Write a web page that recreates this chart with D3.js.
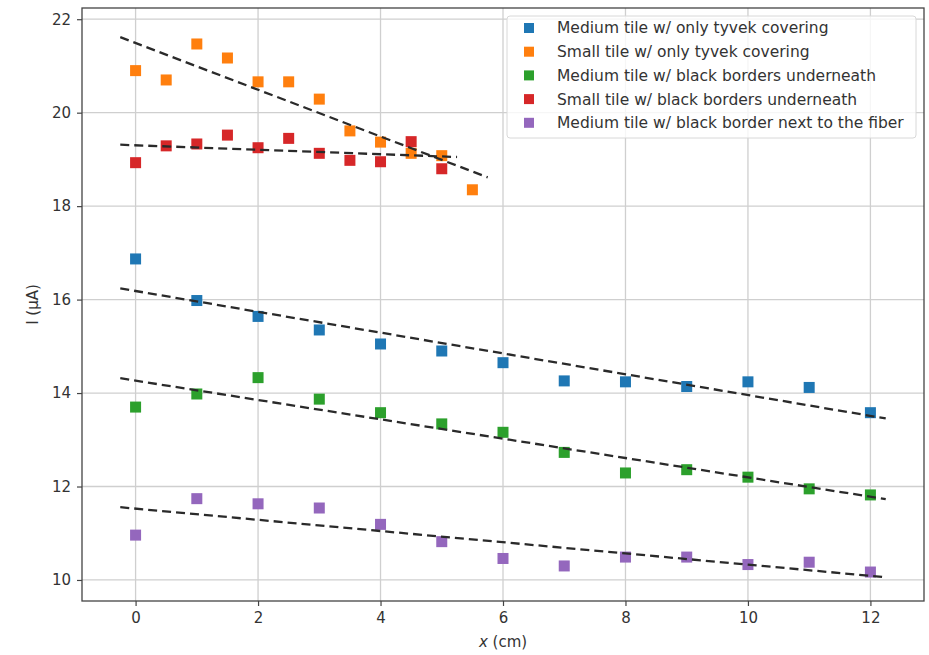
<!DOCTYPE html>
<html>
<head>
<meta charset="utf-8">
<script src="https://cdn.jsdelivr.net/npm/d3@7"></script>
<style>
  body { margin: 0; background: #fff; }
  text { font-family: "DejaVu Sans", sans-serif; fill: #333; }
</style>
</head>
<body>
<svg width="929" height="655"></svg>
<script>
// data
var xMedium = [0, 1, 2, 3, 4, 5, 6, 7, 8, 9, 10, 11, 12];
var xSmall = [0, 0.5, 1, 1.5, 2, 2.5, 3, 3.5, 4, 4.5, 5, 5.5];
var xSmallRed = [0, 0.5, 1, 1.5, 2, 2.5, 3, 3.5, 4, 4.5, 5];

var mediumTyvek = [16.87, 15.98, 15.64, 15.35, 15.05, 14.90, 14.65, 14.26, 14.24, 14.14, 14.24, 14.12, 13.58];
var smallTyvek = [20.90, 20.70, 21.47, 21.17, 20.66, 20.66, 20.29, 19.61, 19.37, 19.13, 19.08, 18.35];
var mediumBlack = [13.70, 13.98, 14.33, 13.87, 13.58, 13.34, 13.16, 12.73, 12.29, 12.36, 12.20, 11.95, 11.82];
var smallBlack = [18.93, 19.29, 19.33, 19.52, 19.25, 19.45, 19.13, 18.98, 18.95, 19.38, 18.80];
var mediumFiber = [10.96, 11.74, 11.63, 11.54, 11.19, 10.82, 10.46, 10.30, 10.49, 10.49, 10.33, 10.38, 10.17];

var seriesNames = [
  "Medium tile w/ only tyvek covering",
  "Small tile w/ only tyvek covering",
  "Medium tile w/ black borders underneath",
  "Small tile w/ black borders underneath",
  "Medium tile w/ black border next to the fiber"
];
var seriesColors = ["#1f77b4", "#ff7f0e", "#2ca02c", "#d62728", "#9467bd"];
var xTicks = [0, 2, 4, 6, 8, 10, 12];
var yTicks = [10, 12, 14, 16, 18, 20, 22];

var series = [
  { name: seriesNames[0], xs: xMedium, ys: mediumTyvek, color: seriesColors[0] },
  { name: seriesNames[1], xs: xSmall, ys: smallTyvek, color: seriesColors[1] },
  { name: seriesNames[2], xs: xMedium, ys: mediumBlack, color: seriesColors[2] },
  { name: seriesNames[3], xs: xSmallRed, ys: smallBlack, color: seriesColors[3] },
  { name: seriesNames[4], xs: xMedium, ys: mediumFiber, color: seriesColors[4] }
];

var svg = d3.select("svg");
var pLeft = 82, pRight = 924, pTop = 8, pBottom = 601;

var x = d3.scaleLinear().domain([-0.875, 12.875]).range([pLeft, pRight]);
var y = d3.scaleLinear().domain([9.55, 22.24]).range([pBottom, pTop]);

// grid
svg.append("g").selectAll("line").data(xTicks).enter().append("line")
  .attr("x1", d => x(d)).attr("x2", d => x(d))
  .attr("y1", pTop).attr("y2", pBottom)
  .attr("stroke", "#cfcfcf").attr("stroke-width", 1.3);
svg.append("g").selectAll("line").data(yTicks).enter().append("line")
  .attr("y1", d => y(d)).attr("y2", d => y(d))
  .attr("x1", pLeft).attr("x2", pRight)
  .attr("stroke", "#cfcfcf").attr("stroke-width", 1.3);

// axes
var xAxis = svg.append("g").attr("transform", "translate(0," + pBottom + ")")
  .call(d3.axisBottom(x).tickValues(xTicks).tickSize(5).tickPadding(6).tickFormat(d3.format("d")));
var yAxis = svg.append("g").attr("transform", "translate(" + pLeft + ",0)")
  .call(d3.axisLeft(y).tickValues(yTicks).tickSize(5).tickPadding(6).tickFormat(d3.format("d")));
[xAxis, yAxis].forEach(function (a) {
  a.select(".domain").remove();
  a.selectAll("line").attr("stroke", "#444").attr("stroke-width", 1.2);
  a.selectAll("text").attr("font-size", 15).attr("font-family", "DejaVu Sans").attr("fill", "#333");
});

// fit lines (least squares on each series), drawn from xmin-0.25 to xmax+0.25
function fit(xs, ys) {
  var mx = d3.mean(xs), my = d3.mean(ys);
  var sxy = d3.sum(xs, (v, i) => (v - mx) * (ys[i] - my));
  var sxx = d3.sum(xs, v => (v - mx) * (v - mx));
  var b = sxy / sxx;
  return function (v) { return my + b * (v - mx); };
}

var line = d3.line().x(d => x(d[0])).y(d => y(d[1]));

// markers
series.forEach(function (s) {
  svg.append("g").selectAll("rect").data(s.xs).enter().append("rect")
    .attr("x", (d) => x(d) - 5.5)
    .attr("y", (d, i) => y(s.ys[i]) - 5.5)
    .attr("width", 11).attr("height", 11)
    .attr("fill", s.color);
});

series.forEach(function (s) {
  var f = fit(s.xs, s.ys);
  var x0 = d3.min(s.xs) - 0.25, x1 = d3.max(s.xs) + 0.25;
  svg.append("path")
    .attr("d", line([[x0, f(x0)], [x1, f(x1)]]))
    .attr("fill", "none").attr("stroke", "#2a2a2a")
    .attr("stroke-width", 2.3).attr("stroke-dasharray", "9,5");
});

// frame
svg.append("rect").attr("x", pLeft).attr("y", pTop)
  .attr("width", pRight - pLeft).attr("height", pBottom - pTop)
  .attr("fill", "none").attr("stroke", "#444").attr("stroke-width", 1.3);

// legend
var lg = svg.append("g");
lg.append("rect").attr("x", 507).attr("y", 16).attr("width", 409).attr("height", 122)
  .attr("rx", 3).attr("fill", "#fff").attr("fill-opacity", 0.8)
  .attr("stroke", "#d8d8d8").attr("stroke-width", 1);
series.forEach(function (s, i) {
  var cy = 28 + i * 23.7;
  lg.append("rect").attr("x", 524).attr("y", cy - 5).attr("width", 10).attr("height", 10)
    .attr("fill", s.color);
  lg.append("text").attr("x", 557).attr("y", cy).attr("dy", "0.35em")
    .attr("font-size", 15.5).text(s.name);
});

// axis labels
var xl = svg.append("text").attr("x", (pLeft + pRight) / 2).attr("y", 647)
  .attr("text-anchor", "middle").attr("font-size", 15);
xl.append("tspan").attr("font-style", "italic").text("x");
xl.append("tspan").text(" (cm)");

svg.append("text").attr("transform", "translate(38," + ((pTop + pBottom) / 2) + ") rotate(-90)")
  .attr("text-anchor", "middle").attr("font-size", 15).text("I (\u03bcA)");
</script>
</body>
</html>
